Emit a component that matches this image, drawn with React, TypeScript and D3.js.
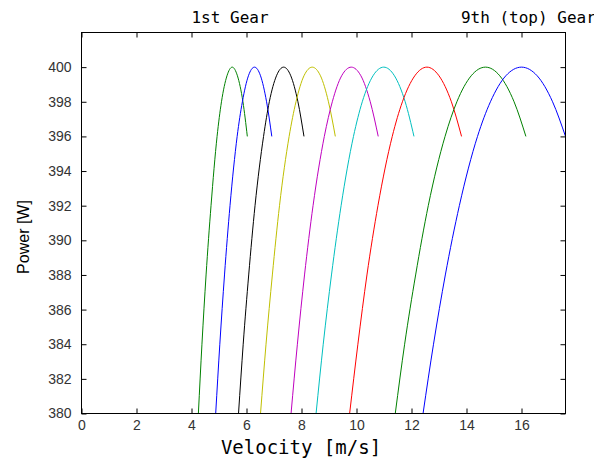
import React, {useEffect, useRef} from 'react';
import * as d3 from 'd3';

// power levels shared by every gear curve (rise, peak, fall)
const powerLevels = [380, 384, 388, 392, 396, 398, 399.5, 400, 399.5, 398, 396];

// velocity [m/s] at each power level, one array per gear
const gear1 = [4.25, 4.38, 4.53, 4.71, 4.93, 5.09, 5.29, 5.48, 5.67, 5.87, 6.03];
const gear2 = [4.88, 5.03, 5.20, 5.40, 5.66, 5.85, 6.07, 6.29, 6.51, 6.73, 6.92];
const gear3 = [5.71, 5.88, 6.08, 6.31, 6.62, 6.83, 7.09, 7.35, 7.61, 7.87, 8.09];
const gear4 = [6.51, 6.71, 6.94, 7.20, 7.55, 7.80, 8.09, 8.39, 8.69, 8.98, 9.23];
const gear5 = [7.62, 7.85, 8.11, 8.42, 8.83, 9.12, 9.46, 9.81, 10.16, 10.50, 10.79];
const gear6 = [8.53, 8.79, 9.09, 9.44, 9.89, 10.21, 10.60, 10.99, 11.38, 11.77, 12.09];
const gear7 = [9.75, 10.05, 10.38, 10.78, 11.30, 11.67, 12.12, 12.56, 13.00, 13.45, 13.82];
const gear8 = [11.41, 11.75, 12.15, 12.61, 13.22, 13.65, 14.17, 14.69, 15.21, 15.73, 16.16];
const gear9 = [12.42, 12.80, 13.23, 13.74, 14.40, 14.87, 15.43, 16.00, 16.57, 17.13, 17.60];

const gears = [gear1, gear2, gear3, gear4, gear5, gear6, gear7, gear8, gear9];
const gearColors = ['#008000', '#0000ff', '#000000', '#bfbf00', '#bf00bf', '#00bfbf', '#ff0000', '#008000', '#0000ff'];

const xTicks = [0, 2, 4, 6, 8, 10, 12, 14, 16];
const yTicks = [380, 382, 384, 386, 388, 390, 392, 394, 396, 398, 400];

const gearLabels = ['1st Gear', '9th (top) Gear'];
const gearLabelX = [5.4, 16.25];

function GearChart() {
    const ref = useRef<SVGSVGElement>(null);
    const width = 594;
    const height = 458;
    const margin = {top: 32.5, right: 28.5, bottom: 44.5, left: 81.5};
    const innerW = width - margin.left - margin.right;
    const innerH = height - margin.top - margin.bottom;

    useEffect(() => {
        const svg = d3.select(ref.current);
        svg.selectAll('*').remove();
        draw(svg);
    }, []);

    function draw(svg: any) {
        const x = d3.scaleLinear().domain([0, 17.6]).range([margin.left, margin.left + innerW]);
        const y = d3.scaleLinear().domain([380, 402]).range([margin.top + innerH, margin.top]);

        svg.append('clipPath').attr('id', 'plotClip')
            .append('rect')
            .attr('x', margin.left).attr('y', margin.top)
            .attr('width', innerW).attr('height', innerH);

        // gear curves
        const line = d3.line<number>()
            .x(v => x(v))
            .y((v, i) => y(powerLevels[i]))
            .curve(d3.curveMonotoneX);

        svg.append('g').attr('clip-path', 'url(#plotClip)')
            .selectAll('path')
            .data(gears)
            .enter()
            .append('path')
            .attr('d', (d: number[]) => line(d))
            .attr('fill', 'none')
            .attr('stroke', (d: number[], i: number) => gearColors[i])
            .attr('stroke-width', 1);

        const styleAxis = (g: any) => {
            g.select('.domain').remove();
            g.selectAll('line').attr('stroke', '#000');
            g.selectAll('text')
                .style('font-family', '"Liberation Sans", Arial, sans-serif')
                .style('font-size', '14px')
                .attr('fill', '#333');
        };

        svg.append('g')
            .attr('transform', `translate(0, ${margin.top + innerH})`)
            .call(d3.axisBottom(x).tickValues(xTicks).tickSizeInner(-5).tickSizeOuter(0).tickPadding(7))
            .call(styleAxis);

        svg.append('g')
            .attr('transform', `translate(0, ${margin.top})`)
            .call(d3.axisTop(x).tickValues(xTicks).tickSizeInner(-5).tickSizeOuter(0).tickFormat(() => ''))
            .call(styleAxis);

        svg.append('g')
            .attr('transform', `translate(${margin.left}, 0)`)
            .call(d3.axisLeft(y).tickValues(yTicks).tickSizeInner(-5).tickSizeOuter(0).tickPadding(10))
            .call(styleAxis);

        svg.append('g')
            .attr('transform', `translate(${margin.left + innerW}, 0)`)
            .call(d3.axisRight(y).tickValues(yTicks).tickSizeInner(-5).tickSizeOuter(0).tickFormat(() => ''))
            .call(styleAxis);

        // frame
        svg.append('rect')
            .attr('x', margin.left).attr('y', margin.top)
            .attr('width', innerW).attr('height', innerH)
            .attr('fill', 'none').attr('stroke', '#000').attr('stroke-width', 1);

        // gear annotations
        svg.selectAll('.gearLabel')
            .data(gearLabels)
            .enter()
            .append('text')
            .attr('class', 'gearLabel')
            .attr('x', (d: string, i: number) => x(gearLabelX[i]))
            .attr('y', 23)
            .style('font-family', '"DejaVu Sans Mono", monospace')
            .style('font-size', '16px')
            .style('text-anchor', 'middle')
            .attr('fill', '#000')
            .text((d: string) => d);

        // axis titles
        svg.append('text')
            .attr('x', 301)
            .attr('y', 454)
            .style('font-family', '"DejaVu Sans Mono", monospace')
            .style('font-size', '19px')
            .style('text-anchor', 'middle')
            .attr('fill', '#000')
            .text('Velocity [m/s]');

        svg.append('text')
            .attr('transform', `translate(29, ${margin.top + innerH / 2 + 14}) rotate(-90)`)
            .style('font-family', '"Liberation Sans", Arial, sans-serif')
            .style('font-size', '16px')
            .style('text-anchor', 'middle')
            .attr('fill', '#000')
            .text('Power [W]');
    }

    return (
        <svg ref={ref} width={width} height={height}
             style={{position: 'absolute', left: 0, top: 0, background: '#fff', overflow: 'hidden'}}></svg>
    );
}

export default function App() {
    return <GearChart />;
}
